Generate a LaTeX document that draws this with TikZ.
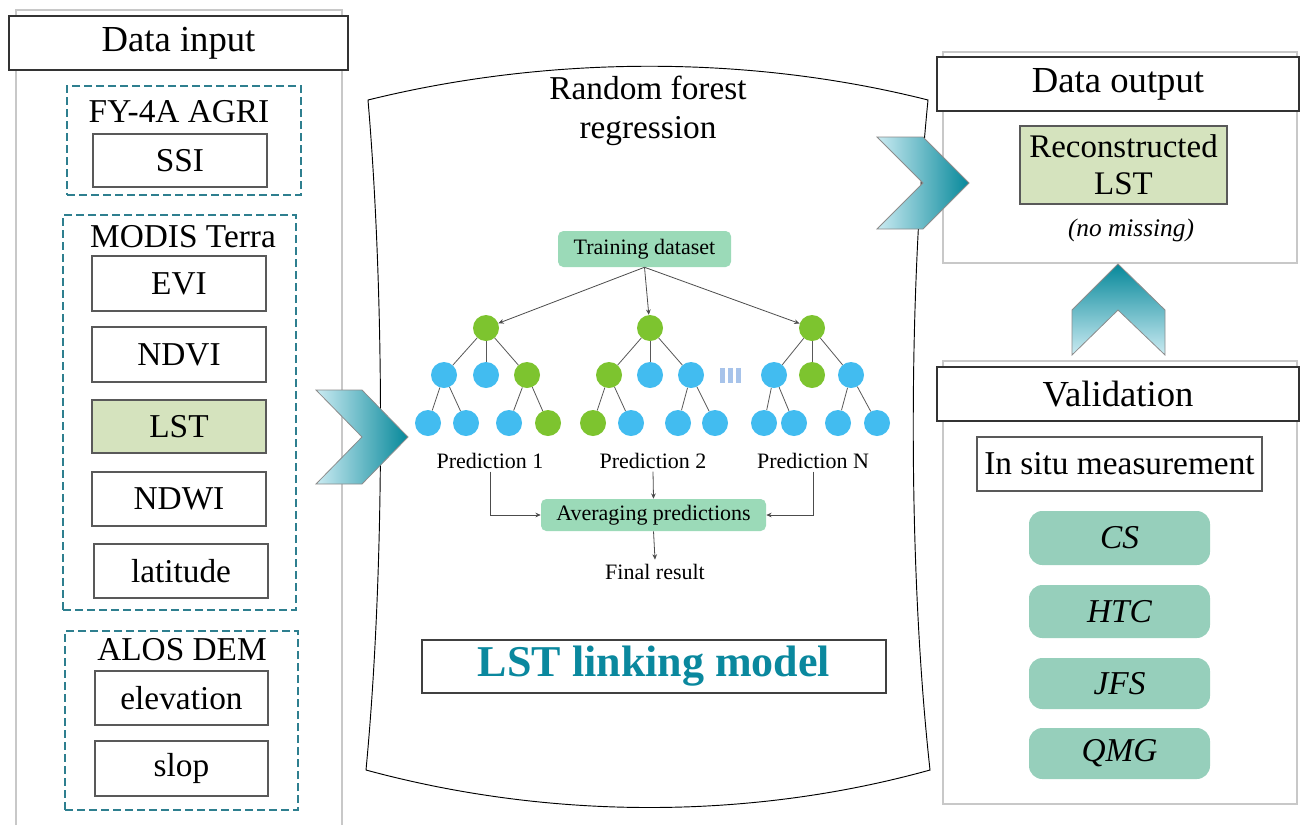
\documentclass[tikz,border=0pt]{standalone}
\usepackage{fontspec}
\setmainfont{Liberation Serif}
\usetikzlibrary{arrows.meta}
\definecolor{teald}{HTML}{2E7F8F}
\definecolor{lstgreen}{HTML}{D5E3BE}
\definecolor{mint}{HTML}{96CFBB}
\definecolor{tdgreen}{HTML}{9BDAB8}
\definecolor{leafg}{HTML}{7DC42F}
\definecolor{leafb}{HTML}{42BCF0}
\definecolor{chevL}{HTML}{CBEBF2}
\definecolor{chevR}{HTML}{06889A}
\definecolor{lstblue}{HTML}{0A889E}
\definecolor{framegray}{HTML}{C8C8C8}
\definecolor{barc}{HTML}{A7C3EA}
\begin{document}
\begin{tikzpicture}[x=0.75pt,y=-0.75pt,
  sz/.style 2 args={minimum width=#1*0.75pt, minimum height=#2*0.75pt},
  big/.style={font=\fontsize{25}{28}\selectfont},
  hfont/.style={font=\fontsize{27.5}{30}\selectfont},
  small/.style={font=\fontsize{16.5}{19}\selectfont},
  frame/.style={draw=framegray, line width=1.5pt},
  header/.style={draw=black!80, line width=0.9pt, fill=white, inner sep=0pt, hfont},
  ibox/.style={draw=black!65, line width=0.9pt, fill=white, inner sep=0pt, big},
  group/.style={draw=teald, line width=1pt, dash pattern=on 6pt off 3pt, inner sep=0pt},
  pill/.style={fill=mint, rounded corners=10pt, inner sep=0pt, font=\fontsize{25}{28}\selectfont\itshape},
  gbox/.style={fill=tdgreen, rounded corners=4pt, inner sep=0pt, small},
  gn/.style={circle, fill=leafg, minimum size=19.5pt, inner sep=0pt},
  bn/.style={circle, fill=leafb, minimum size=19.5pt, inner sep=0pt},
  edge/.style={draw=black!65, line width=0.6pt},
  arr/.style={draw=black!70, line width=0.6pt, -{Stealth[length=4pt,width=3.5pt]}},
  chev/.style={draw=black!45, line width=0.6pt},
  bar/.style={fill=barc, draw=none}
]
\useasboundingbox (0,0) rectangle (1301,825);

% ---------- left panel ----------
\draw[frame] (16,825) -- (16,10) -- (342,10) -- (342,825);
\node[header, sz={339}{54}] (din) at (178.5,43) {Data input};

\node[group, sz={234}{109}] (g1) at (184,140.5) {};
\node[big] (fy) at (179,112) {FY-4A AGRI};
\node[ibox, sz={174}{53}] (ssi) at (180,160.5) {SSI};

\node[group, sz={233}{395}] (g2) at (179.5,412.5) {};
\node[big] (modis) at (183,237) {MODIS Terra};
\node[ibox, sz={174}{55}] (evi) at (179,283.5) {EVI};
\node[ibox, sz={174}{55}] (ndvi) at (179,354.5) {NDVI};
\node[ibox, fill=lstgreen, sz={174}{53}] (lst) at (179,426.5) {LST};
\node[ibox, sz={174}{54}] (ndwi) at (179,499) {NDWI};
\node[ibox, sz={174}{54}] (lat) at (181,571) {latitude};

\node[group, sz={233}{179}] (g3) at (181.5,720.5) {};
\node[big] (alos) at (182,650) {ALOS DEM};
\node[ibox, sz={173}{54}] (elev) at (181.5,698) {elevation};
\node[ibox, sz={173}{55}] (slop) at (181.5,768.5) {slop};

% ---------- central panel ----------
\draw[black, line width=0.7pt, fill=white]
  (368,100) .. controls (550,55) and (750,55) .. (928,100)
  .. controls (908,300) and (908,570) .. (930,770)
  .. controls (750,820) and (550,820) .. (366,770)
  .. controls (385,570) and (385,300) .. (368,100) -- cycle;
\node[big, align=center, inner sep=0pt] (rfr) at (648,111) {Random forest\\[1pt]regression};

\node[gbox, sz={173}{36}] (td) at (644.5,249) {Training dataset};

% tree 1
\node[gn] (r1) at (486,328) {};
\node[bn] (a1) at (444,375) {};
\node[bn] (a2) at (486,375) {};
\node[gn] (a3) at (527,375) {};
\node[bn] (a11) at (428,423) {};
\node[bn] (a12) at (466,423) {};
\node[bn] (a31) at (509,423) {};
\node[gn] (a32) at (548,423) {};
% tree 2
\node[gn] (r2) at (650,328) {};
\node[gn] (b1) at (609,375) {};
\node[bn] (b2) at (650,375) {};
\node[bn] (b3) at (691,375) {};
\node[gn] (b11) at (593,423) {};
\node[bn] (b12) at (631,423) {};
\node[bn] (b31) at (678,423) {};
\node[bn] (b32) at (715,423) {};
% tree 3
\node[gn] (r3) at (812,328) {};
\node[bn] (c1) at (774,375) {};
\node[gn] (c2) at (812,375) {};
\node[bn] (c3) at (851,375) {};
\node[bn] (c11) at (764,423) {};
\node[bn] (c12) at (794,423) {};
\node[bn] (c31) at (838,423) {};
\node[bn] (c32) at (877,423) {};

\foreach \p/\c in {r1/a1,r1/a2,r1/a3,a1/a11,a1/a12,a3/a31,a3/a32,
                   r2/b1,r2/b2,r2/b3,b1/b11,b1/b12,b3/b31,b3/b32,
                   r3/c1,r3/c2,r3/c3,c1/c11,c1/c12,c3/c31,c3/c32}
  \draw[edge] (\p) -- (\c);

\draw[arr] (td.south) -- (r1);
\draw[arr] (td.south) -- (r2);
\draw[arr] (td.south) -- (r3);

\path[bar] (720,368) rectangle (725,383);
\path[bar] (728,368) rectangle (733,383);
\path[bar] (736,368) rectangle (741,383);

\node[small, inner sep=2pt] (p1) at (490,461) {Prediction 1};
\node[small, inner sep=2pt] (p2) at (653,461) {Prediction 2};
\node[small, inner sep=2pt] (pn) at (813,461) {Prediction N};
\node[gbox, sz={225}{32}] (avg) at (653.5,515) {Averaging predictions};
\node[small] (fr) at (655,572) {Final result};

\draw[arr] (p1.south) |- (avg.west);
\draw[arr] (p2.south) -- (avg.north);
\draw[arr] (pn.south) |- (avg.east);
\draw[arr] (avg.south) -- (fr.north);

\node[draw=black!75, line width=0.9pt, fill=white, inner sep=0pt, sz={464}{53},
      font=\fontsize{33}{36}\selectfont\bfseries, text=lstblue] (lstm) at (654,666.5) {LST linking model};

% ---------- right panels ----------
\draw[frame] (943,52) rectangle (1297,263);
\node[header, sz={362}{54}] (dout) at (1118,84) {Data output};
\node[ibox, fill=lstgreen, align=center, sz={207}{78},
      font=\fontsize{24.7}{28}\selectfont] (rlst) at (1123.5,165) {Reconstructed\\LST};
\node[font=\fontsize{19}{22}\selectfont\itshape] (nm) at (1131,230) {(no missing)};

\draw[frame] (943,361) rectangle (1297,804);
\node[header, sz={362}{54}] (val) at (1118,394) {Validation};
\node[ibox, sz={285}{54}] (insitu) at (1119.5,464) {In situ measurement};
\node[pill, sz={181}{54}] (cs) at (1119.5,538) {CS};
\node[pill, sz={181}{53}] (htc) at (1119.5,611.5) {HTC};
\node[pill, sz={181}{51}] (jfs) at (1119.5,683.5) {JFS};
\node[pill, sz={181}{51}] (qmg) at (1119.5,753.5) {QMG};

% ---------- chevrons ----------
\draw[chev, left color=chevL, right color=chevR]
  (316,390) -- (362,390) -- (408,437) -- (362,484) -- (316,484) -- (362,437) -- cycle;
\draw[chev, left color=chevL, right color=chevR]
  (877,137) -- (923,137) -- (969,183) -- (923,229) -- (877,229) -- (923,183) -- cycle;
\draw[chev, top color=chevR, bottom color=chevL]
  (1072,355) -- (1072,310) -- (1118,264) -- (1165,310) -- (1165,355) -- (1118,310) -- cycle;
\end{tikzpicture}
\end{document}
